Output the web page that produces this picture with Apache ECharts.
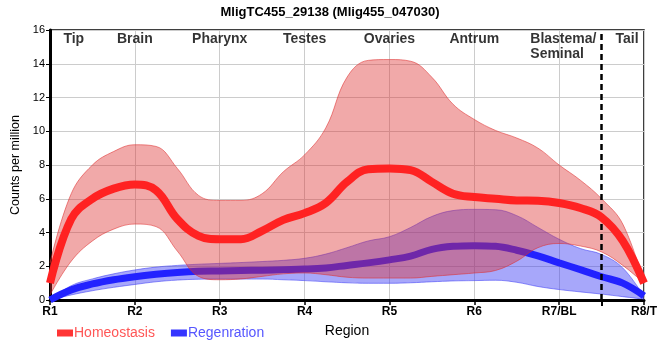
<!DOCTYPE html>
<html>
<head>
<meta charset="utf-8">
<script src="https://cdn.jsdelivr.net/npm/echarts@6/dist/echarts.min.js"></script>
<style>html,body{margin:0;padding:0;background:#fff;}#c{width:660px;height:360px;}</style>
</head>
<body>
<div id="c"></div>
<script>
// x positions (0 = R1 ... 7 = R8/T)
const xs = [0,0.25,0.5,0.75,1,1.25,1.5,1.75,2,2.25,2.5,2.75,3,3.25,3.5,3.75,4,4.25,4.5,4.75,5,5.25,5.5,5.75,6,6.25,6.5,6.75,7];
const xTickLabels = ['R1','R2','R3','R4','R5','R6','R7/BL','R8/T'];

const homeoMean  = [1.0,4.8,6.0,6.6,6.85,6.5,4.8,3.8,3.6,3.6,4.1,4.75,5.15,5.75,7.0,7.75,7.8,7.7,7.0,6.3,6.1,6.0,5.9,5.88,5.75,5.45,4.9,3.5,1.0];
const homeoUpper = [2.2,6.3,8.0,8.8,9.2,9.1,7.8,6.2,5.9,5.9,6.3,7.6,8.6,10.2,13.2,14.2,14.25,14.15,13.2,11.6,10.7,10.05,9.6,9.0,8.0,7.1,6.0,4.5,1.0];
const homeoLower = [0.3,2.3,3.5,4.2,4.5,4.35,2.9,1.4,1.2,1.25,1.4,1.55,1.6,1.5,1.35,1.3,1.3,1.3,1.4,1.5,1.6,1.75,2.3,3.1,3.35,3.2,2.85,2.05,1.0];

const regenMean  = [0,0.6,0.95,1.2,1.38,1.52,1.63,1.7,1.72,1.75,1.77,1.8,1.83,1.9,2.05,2.2,2.38,2.6,3.0,3.18,3.22,3.18,2.95,2.62,2.2,1.8,1.38,1.0,0.25];
const regenUpper = [0,0.85,1.25,1.55,1.78,1.95,2.05,2.12,2.17,2.22,2.28,2.35,2.47,2.72,3.1,3.5,3.75,4.3,4.95,5.3,5.37,5.35,5.0,4.3,3.6,3.05,2.7,1.9,0.2];
const regenLower = [0,0.3,0.55,0.75,0.92,1.08,1.18,1.23,1.24,1.24,1.24,1.2,1.15,1.08,1.02,0.99,0.99,1.02,1.08,1.13,1.15,1.17,1.05,0.8,0.62,0.48,0.35,0.2,0.05];

const regionNames = ['Tip','Brain','Pharynx','Testes','Ovaries','Antrum','Blastema/\nSeminal','Tail'];
const regionX = [0.28,1,2,3,4,5,5.66,6.8];
const tailBoundary = 6.5;

const diff = (a,b) => a.map((v,i)=> +(v-b[i]).toFixed(3));
const FONT = "'Liberation Sans', Arial, sans-serif";
const isMajor = (idx) => Number.isInteger(xs[idx]);

const chart = echarts.init(document.getElementById('c'), null, {renderer:'canvas'});
const bandEdgeB = 'rgba(60,60,245,0.55)';
const bandEdgeR = 'rgba(222,45,45,0.55)';
const SMOOTH = 0.4;
const option = {
  animation: false,
  backgroundColor: '#fff',
  textStyle: {fontFamily: FONT},
  title: {
    text: 'MligTC455_29138 (Mlig455_047030)',
    left: 'center', top: 1,
    textStyle: {fontFamily: FONT, fontSize: 13, fontWeight: 'bold', color: '#000'}
  },
  legend: {
    left: 52, top: 321,
    itemWidth: 16, itemHeight: 7, itemGap: 16, icon: 'rect',
    textStyle: {fontFamily: FONT, fontSize: 14, padding: [0,0,0,-4]},
    data: [
      {name: 'Homeostasis', itemStyle: {color: '#ff3535'}, textStyle: {color: '#ff5656'}},
      {name: 'Regenration', itemStyle: {color: '#3535ff'}, textStyle: {color: '#5656ff'}}
    ]
  },
  grid: {left: 50, right: 8, top: 30, bottom: 60, show: true, borderColor: '#000', borderWidth: 1.5, containLabel: false},
  xAxis: [{
    type: 'category', data: xs.map(String), boundaryGap: false,
    name: 'Region', nameLocation: 'middle', nameGap: 24,
    nameTextStyle: {fontFamily: FONT, fontSize: 14, color: '#000'},
    axisLine: {lineStyle: {color: '#000', width: 3}},
    axisTick: {show: true, length: 5, interval: (i) => isMajor(i), lineStyle: {color: '#000', width: 1.5}},
    axisLabel: {fontFamily: FONT, fontSize: 12, fontWeight: 'bold', color: '#000', margin: 6,
      interval: (i) => isMajor(i),
      formatter: (v, i) => xTickLabels[Math.round(xs[i])] || ''},
    splitLine: {show: true, interval: (i) => isMajor(i), lineStyle: {color: '#cccccc', width: 1}}
  }, {
    type: 'value', min: 0, max: 7, position: 'bottom',
    axisLine: {show: false}, axisLabel: {show: false}, splitLine: {show: false},
    axisTick: {show: true, length: 6, customValues: [tailBoundary], lineStyle: {color: '#000', width: 2}}
  }],
  yAxis: {
    type: 'value', min: 0, max: 16, interval: 2,
    name: 'Counts per million', nameLocation: 'middle', nameGap: 21, nameRotate: 90,
    nameTextStyle: {fontFamily: FONT, fontSize: 12.5, color: '#000'},
    axisLine: {show: true, lineStyle: {color: '#000', width: 3}},
    axisTick: {show: true, length: 4, lineStyle: {color: '#000', width: 1}},
    axisLabel: {fontFamily: FONT, fontSize: 11, color: '#000', margin: 5},
    splitLine: {show: true, lineStyle: {color: '#cccccc', width: 1}}
  },
  series: [
    {name: 'bBase', type: 'line', stack: 'b', data: regenLower, smooth: SMOOTH, symbol: 'none',
      lineStyle: {color: bandEdgeB, width: 1}, z: 2, silent: true},
    {name: 'bBand', type: 'line', stack: 'b', data: diff(regenUpper, regenLower), smooth: SMOOTH, symbol: 'none',
      lineStyle: {color: bandEdgeB, width: 1}, areaStyle: {color: 'rgba(60,60,245,0.45)', opacity: 1}, z: 2, silent: true},
    {name: 'Regenration', type: 'line', data: regenMean, smooth: SMOOTH, symbol: 'none',
      lineStyle: {color: '#2222ff', width: 7}, itemStyle: {color: '#3535ff'}, z: 3},
    {name: 'rBase', type: 'line', stack: 'r', data: homeoLower, smooth: SMOOTH, symbol: 'none',
      lineStyle: {color: bandEdgeR, width: 1}, z: 4, silent: true},
    {name: 'rBand', type: 'line', stack: 'r', data: diff(homeoUpper, homeoLower), smooth: SMOOTH, symbol: 'none',
      lineStyle: {color: bandEdgeR, width: 1}, areaStyle: {color: 'rgba(222,45,45,0.41)', opacity: 1}, z: 4, silent: true},
    {name: 'Homeostasis', type: 'line', data: homeoMean, smooth: SMOOTH, symbol: 'none',
      lineStyle: {color: '#ff2222', width: 8}, itemStyle: {color: '#ff3535'}, z: 5},
    {name: 'regions', type: 'scatter', xAxisIndex: 1, symbolSize: 0, z: 6, silent: true,
      data: regionX.map((x,i)=>({
        value: [x, 16],
        label: i === 6 ? {align: 'left'} : {}
      })),
      label: {show: true, position: 'bottom', distance: 2,
        formatter: p => regionNames[p.dataIndex],
        fontFamily: FONT, fontSize: 14, fontWeight: 'bold', color: '#000', lineHeight: 15},
      markLine: {silent: true, symbol: 'none', label: {show: false},
        lineStyle: {color: '#000', type: [6,4], width: 2.5},
        data: [{xAxis: tailBoundary}]}
    }
  ]
};
chart.setOption(option);
</script>
</body>
</html>
